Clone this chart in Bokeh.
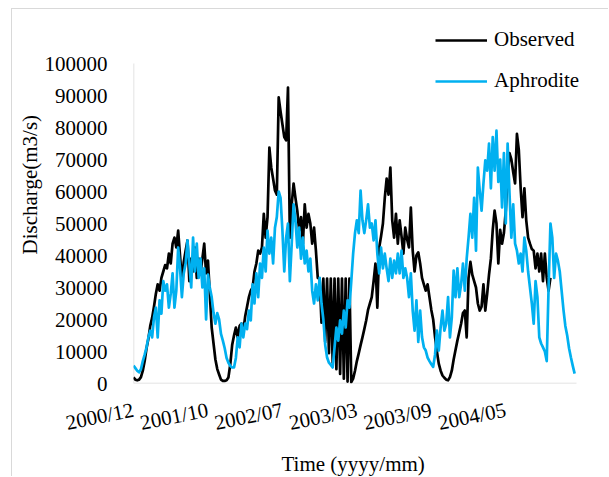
from bokeh.plotting import figure
from bokeh.models import Range1d, FixedTicker, Legend, LegendItem, Title
from bokeh.embed import file_html
from bokeh.resources import INLINE

tick_positions = [0, 40, 80, 120, 160, 200]
tick_labels = ["2000/12", "2001/10", "2002/07", "2003/03", "2003/09", "2004/05"]
y_ticks = [0, 10000, 20000, 30000, 40000, 50000, 60000, 70000, 80000, 90000, 100000]
x_axis_end = 238
y_axis_end = 100000

observed = [
    1900, 1200, 1000, 1200, 2000, 4000, 7000, 11000, 14000, 18000,
    20500, 24000, 28000, 31000, 29000, 33000, 35000, 37000, 36000, 40600,
    37500, 43700, 45600, 42500, 47800, 40000, 32000, 38000, 41500, 44700,
    32000, 39000, 35000, 42500, 33000, 39000, 34400, 39000, 43700, 34400,
    38400, 28000, 17500, 12500, 7500, 4500, 2800, 1200, 800, 800,
    1000, 1900, 6000, 12000, 15000, 17500, 14400, 18000, 18700, 16500,
    21000, 24000, 27000, 29000, 30000, 35000, 37500, 41500, 40600, 42500,
    53000, 45600, 52000, 73700, 67500, 64000, 60300, 59000, 89400, 85000,
    81000, 77000, 76000, 92500, 45600, 56000, 62500, 58000, 54000, 47800,
    52000, 43700, 56000, 48700, 53000, 50000, 43700, 48700, 41500, 33000,
    32800, 19000, 32800, 13000, 32800, 9500, 32800, 6500, 32800, 4500,
    32800, 3000, 32800, 1500, 32800, 600, 32800, 400, 1500, 4000,
    7000, 9400, 12000, 14400, 17000, 19700, 23000, 25000, 27000, 32000,
    37500, 23700, 42500, 46000, 50000, 58000, 64000, 59000, 67500, 51000,
    45600, 53000, 43700, 51000, 46000, 40600, 48700, 45000, 42500, 55000,
    41500, 35000, 40000, 41000, 37500, 33000, 31000, 29000, 31000, 27000,
    23000, 20000, 14500, 10000, 6200, 4000, 2500, 1800, 1200, 1000,
    2000, 4000, 7500, 10500, 13400, 16000, 18700, 22000, 22800, 14400,
    33000, 38000, 34000, 32000, 30000, 25000, 22800, 24000, 31000, 22800,
    28000, 34000, 39000, 48000, 54000, 50000, 37500, 48000, 43700, 47000,
    54000, 65000, 72000, 70000, 66000, 62500, 78000, 73000, 61000, 52000,
    61000, 51000, 45600, 43700, 42000, 41500, 36000, 40600, 35000, 40600,
    32000, 40600, 33000, 29000, 33000,
]

aphrodite = [
    5600, 4800, 4000, 3500, 4500, 7000, 9000, 11300, 14400, 16500,
    14400, 20600, 23700, 14400, 26000, 21800, 32000, 29000, 31000, 23700,
    28000, 34400, 23700, 29000, 42500, 36000, 27000, 34400, 37500, 44700,
    37500, 30000, 45600, 35000, 43700, 33000, 39000, 30000, 36000, 20000,
    34000, 30000, 27000, 22000, 18700, 22000, 20000, 15500, 13400, 11000,
    8000, 6500, 5500, 5000, 5000, 8000, 14400, 11300, 18700, 14400,
    18700, 17000, 22800, 19700, 31000, 25000, 34400, 27000, 37500, 33000,
    42500, 35000, 47800, 40600, 45600, 37500, 48700, 52000, 60000, 58000,
    47800, 35000, 45600, 50000, 32000, 43700, 56000, 51000, 42500, 48700,
    39000, 45600, 37500, 41500, 35000, 39000, 29000, 25000, 31000, 26000,
    33000, 25000, 20000, 12000, 8100, 6500, 5800, 5000, 11300, 17500,
    13400, 19700, 15600, 22800, 17500, 26000, 23700, 32000, 40600, 47000,
    51000, 47000, 60300, 51000, 47000, 51000, 56000, 48700, 50000, 44700,
    51000, 40600, 34400, 42500, 36000, 40600, 36000, 32000, 39000, 33000,
    38400, 34400, 40600, 34400, 41500, 33000, 36000, 33000, 27000, 34400,
    22800, 16500, 26000, 13000, 22800, 14500, 11300, 10300, 8100, 7000,
    6000, 5200, 9000, 16500, 10300, 17500, 22800, 16500, 18700, 27000,
    14400, 20600, 35300, 27000, 36000, 27000, 31000, 37500, 29000, 39000,
    45600, 53000, 45600, 58000, 41500, 67500, 60300, 54000, 62500, 69700,
    66500, 75000, 61000, 77000, 66500, 79000, 63000, 70000, 55000, 72000,
    50000, 75000, 59400, 45600, 56000, 43700, 41500, 37500, 40600, 35000,
    45600, 41500, 35000, 30000, 25000, 18700, 32000, 27000, 14400, 12500,
    11300, 10000, 7000, 30000, 50000, 45600, 33000, 40600, 38400, 35000,
    29000, 23000, 18000, 15000, 11000, 8100, 5500, 3100,
]

FONT = "Liberation Serif"

# frame: x 133..604 px, y 15..383 px (axis lines drawn only over the data extent)
p = figure(width=597, height=468, output_backend="svg", toolbar_location=None,
           x_range=Range1d(0, 253.04), y_range=Range1d(0, 115000),
           min_border_left=121, min_border_right=5, min_border_top=6, min_border_bottom=94,
           margin=(8, 0, 0, 11))
p.styles = {"border-left": "1px solid #d9d9d9", "border-top": "1px solid #d9d9d9"}
p.outline_line_color = None
p.background_fill_color = "white"
p.border_fill_color = "white"
p.xgrid.visible = False
p.ygrid.visible = False

# axis lines
p.segment(x0=[0, 0], y0=[0, 0], x1=[x_axis_end, 0], y1=[0, y_axis_end],
          line_color="#d9d9d9", line_width=1.5)

r_obs = p.line(list(range(len(observed))), observed, line_color="black", line_width=2.7, line_join="round")
r_aph = p.line(list(range(len(aphrodite))), aphrodite, line_color="#00B0F0", line_width=2.7, line_join="round")

xa = p.xaxis[0]
xa.ticker = FixedTicker(ticks=tick_positions)
xa.major_label_overrides = {t: l for t, l in zip(tick_positions, tick_labels)}
xa.major_label_orientation = 0.2
xa.major_tick_line_color = None
xa.minor_tick_line_color = None
xa.axis_line_color = None
xa.major_label_text_font = FONT
xa.major_label_text_font_size = "21px"
xa.major_label_text_color = "black"
xa.major_label_standoff = 20

ya = p.yaxis[0]
ya.ticker = FixedTicker(ticks=y_ticks)
ya.major_tick_line_color = None
ya.minor_tick_line_color = None
ya.axis_line_color = None
ya.major_label_text_font = FONT
ya.major_label_text_font_size = "21px"
ya.major_label_text_color = "black"
ya.major_label_standoff = 20
ya.formatter.use_scientific = False

p.add_layout(Title(text="Discharge(m3/s)", align="left", offset=129, text_font=FONT,
                   text_font_size="21px", text_font_style="normal", text_color="black",
                   standoff=0), "left")
p.add_layout(Title(text="Time (yyyy/mm)", align="left", offset=148, text_font=FONT,
                   text_font_size="21px", text_font_style="normal", text_color="black",
                   standoff=0), "below")

legend = Legend(items=[LegendItem(label="Observed", renderers=[r_obs]),
                       LegendItem(label="Aphrodite", renderers=[r_aph])],
                location=(302, 290), orientation="vertical", glyph_width=52, glyph_height=20,
                label_standoff=7, spacing=16, padding=0, margin=0,
                border_line_color=None, background_fill_alpha=0,
                label_text_font=FONT, label_text_font_size="21px", label_text_color="black")
p.add_layout(legend)

open("out.html", "w").write(file_html(p, INLINE))
